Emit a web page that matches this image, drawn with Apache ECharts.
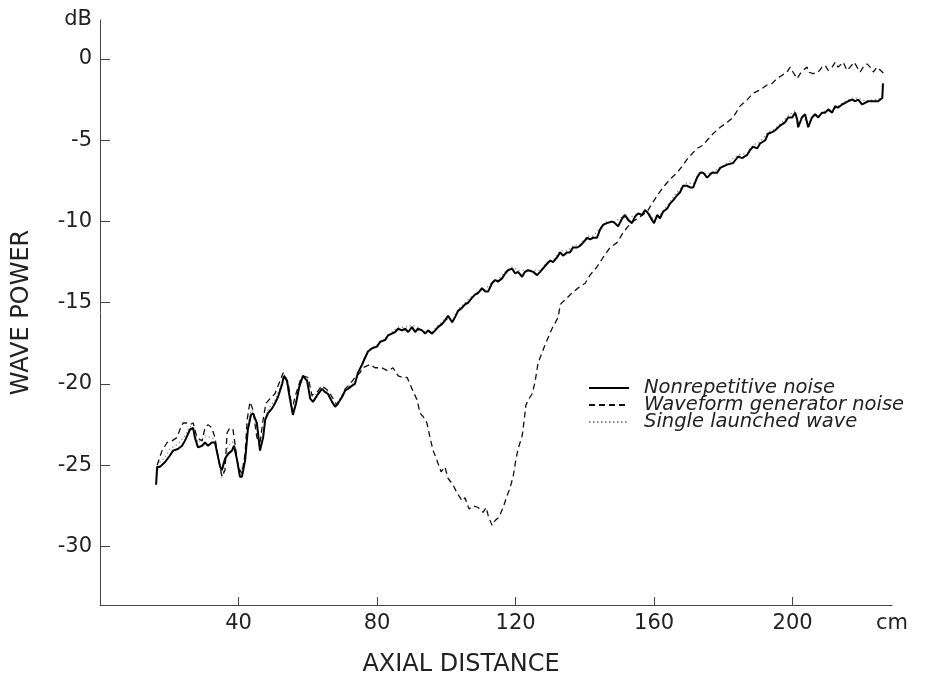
<!DOCTYPE html>
<html>
<head>
<meta charset="utf-8">
<script src="https://cdn.jsdelivr.net/npm/echarts@6/dist/echarts.min.js"></script>
<style>html,body{margin:0;padding:0;background:#fff;}#c{width:929px;height:682px;}</style>
</head>
<body>
<div id="c"></div>
<script>
// ---- data ----
var xTicks = [40, 80, 120, 160, 200];
var yTicks = [0, -5, -10, -15, -20, -25, -30];
var xUnit = 'cm';
var yUnit = 'dB';
var seriesNames = ['Nonrepetitive noise', 'Waveform generator noise', 'Single launched wave'];

var solidX = [16.2,16.5,17.3,18.8,20.2,21.1,22.5,23.7,24.5,26.0,26.9,27.4,28.3,29.5,30.3,31.2,32.3,33.2,34.1,34.7,35.2,36.1,37.0,38.1,38.7,39.6,40.4,41.0,41.9,42.7,43.6,44.2,45.3,46.2,47.1,47.7,48.5,49.7,50.5,51.4,52.6,53.1,54.0,54.6,55.7,56.6,57.5,58.6,59.8,60.7,61.5,62.7,64.1,65.0,65.8,67.0,67.9,68.7,69.9,70.8,71.6,72.8,73.6,74.5,75.7,76.5,77.4,78.6,80.0,80.9,82.3,83.2,84.3,85.2,86.1,87.2,88.1,89.0,90.1,91.0,91.8,93.0,93.9,94.7,95.9,96.8,97.6,98.8,99.6,100.5,101.7,102.5,103.4,104.6,105.4,106.3,107.4,108.3,109.2,110.3,111.2,112.1,113.2,114.1,114.9,116.1,117.0,117.8,119.0,119.9,120.7,121.9,122.7,123.6,125.1,126.2,127.1,127.9,129.1,130.0,130.8,132.0,132.9,133.7,134.9,135.7,136.6,137.8,138.6,139.5,140.7,141.5,142.4,143.5,144.4,145.3,146.4,147.9,148.7,149.6,150.8,151.6,152.5,153.6,154.5,155.4,156.5,157.4,158.3,159.4,160.0,160.9,161.7,162.6,163.8,164.6,165.5,166.6,167.5,168.4,169.5,170.4,171.3,172.4,173.3,174.2,175.3,176.7,178.2,179.1,181.1,182.8,184.3,185.4,186.9,187.7,188.6,189.8,190.6,192.1,192.9,194.1,194.9,196.4,197.8,198.7,199.9,200.7,201.3,201.6,202.7,203.6,204.5,205.6,206.5,207.4,208.5,209.4,210.3,211.4,212.3,213.1,214.3,215.2,216.0,217.2,218.1,218.9,220.1,220.9,221.8,223.3,224.7,225.9,226.1];
var solidY = [-26.2,-25.1,-25.1,-24.8,-24.4,-24.1,-24.0,-23.8,-23.5,-22.8,-22.7,-23.3,-23.9,-23.8,-23.6,-23.8,-23.6,-23.6,-24.5,-25.1,-25.3,-24.6,-24.3,-24.1,-23.8,-24.7,-25.7,-25.7,-24.7,-22.8,-21.9,-21.8,-22.4,-24.1,-23.3,-22.2,-21.8,-21.5,-21.2,-20.8,-20.0,-19.5,-19.8,-20.6,-21.9,-21.2,-20.2,-19.5,-19.8,-20.9,-21.1,-20.7,-20.3,-20.5,-20.6,-21.1,-21.4,-21.2,-20.8,-20.4,-20.3,-20.1,-20.0,-19.3,-18.8,-18.4,-18.0,-17.8,-17.7,-17.4,-17.3,-17.0,-16.9,-16.8,-16.6,-16.7,-16.6,-16.8,-16.5,-16.8,-16.6,-16.7,-16.9,-16.7,-16.9,-16.7,-16.5,-16.3,-16.1,-15.8,-16.2,-15.9,-15.5,-15.3,-15.1,-15.0,-14.7,-14.5,-14.4,-14.1,-14.3,-14.3,-13.8,-13.6,-13.7,-13.5,-13.2,-13.0,-12.9,-13.2,-13.1,-13.4,-13.1,-13.0,-13.1,-13.3,-13.1,-12.9,-12.6,-12.4,-12.5,-12.2,-11.9,-12.1,-11.9,-11.9,-11.6,-11.6,-11.5,-11.3,-11.0,-11.1,-11.0,-11.0,-10.5,-10.2,-10.1,-10.0,-10.1,-10.3,-9.8,-9.6,-9.9,-10.1,-9.7,-9.5,-9.6,-9.3,-9.5,-9.9,-10.1,-9.6,-9.8,-9.4,-9.2,-8.9,-8.7,-8.4,-8.2,-7.8,-7.8,-7.9,-7.9,-7.3,-7.0,-7.0,-7.3,-7.0,-7.0,-6.7,-6.5,-6.4,-6.0,-6.1,-5.9,-5.6,-5.4,-5.5,-5.2,-5.0,-4.6,-4.5,-4.4,-4.1,-3.9,-3.6,-3.6,-3.3,-3.7,-4.2,-3.6,-3.4,-4.2,-3.6,-3.4,-3.6,-3.3,-3.3,-3.1,-3.3,-2.9,-3.0,-2.8,-2.7,-2.6,-2.5,-2.6,-2.5,-2.8,-2.7,-2.6,-2.6,-2.6,-2.4,-1.5];

var dashX = [16.5,17.9,19.4,20.8,22.2,23.1,24.0,25.1,26.0,26.9,28.0,29.5,30.3,31.2,32.3,33.2,34.1,35.2,36.1,36.7,37.5,38.4,39.0,39.9,41.0,41.9,42.5,43.3,44.2,45.3,46.2,47.1,47.9,49.1,50.5,52.0,52.9,54.3,55.5,56.3,57.8,58.6,60.1,61.2,62.7,64.1,65.8,67.3,68.4,69.6,70.8,72.2,73.6,75.1,75.9,78.0,79.4,81.4,83.2,84.6,86.1,87.5,88.7,90.1,91.6,92.4,93.3,94.4,95.3,96.2,97.3,98.5,99.6,100.5,101.9,103.1,104.6,105.4,106.6,107.7,109.2,110.6,111.5,112.1,113.2,114.1,115.2,116.4,117.5,118.4,119.3,119.9,120.7,121.9,122.5,123.0,123.6,124.8,125.6,126.5,128.5,130.5,132.3,132.9,134.9,136.3,138.0,140.1,141.5,143.5,145.3,147.3,149.3,151.0,152.5,153.9,156.0,158.0,159.4,160.9,162.6,164.6,166.6,168.1,169.8,172.4,174.2,175.3,177.0,179.1,181.1,182.8,184.8,186.9,188.6,190.6,192.6,194.1,195.5,197.0,198.4,199.3,200.1,201.3,202.2,203.0,204.2,204.5,205.9,207.4,208.5,209.4,210.3,211.4,212.3,213.1,214.6,215.7,216.6,217.8,218.6,219.5,220.4,221.5,222.4,223.3,224.4,225.9,226.7];
var dashY = [-25.0,-24.1,-23.6,-23.5,-23.3,-22.8,-22.4,-22.4,-22.5,-22.4,-23.3,-23.5,-22.7,-22.5,-22.7,-23.3,-24.5,-25.7,-25.3,-23.0,-22.7,-22.8,-23.7,-25.1,-25.5,-24.3,-22.2,-21.1,-21.6,-23.3,-23.6,-22.2,-21.2,-20.9,-20.6,-19.8,-19.3,-19.9,-21.6,-20.8,-19.8,-19.5,-19.6,-20.7,-20.5,-20.1,-20.4,-20.9,-21.3,-20.9,-20.3,-20.0,-19.6,-19.3,-19.0,-18.8,-19.0,-19.0,-19.2,-19.0,-19.5,-19.6,-19.6,-20.3,-21.0,-21.8,-22.0,-22.4,-23.3,-24.1,-24.7,-25.4,-25.1,-25.8,-26.2,-26.7,-27.2,-27.0,-27.7,-27.5,-27.6,-27.9,-27.6,-28.1,-28.7,-28.4,-28.2,-27.6,-26.9,-26.4,-25.7,-24.9,-24.0,-23.2,-22.2,-21.3,-21.0,-20.6,-19.9,-18.7,-17.6,-16.6,-15.9,-15.1,-14.7,-14.4,-14.1,-13.8,-13.3,-12.8,-12.2,-11.6,-11.3,-10.7,-10.3,-10.0,-9.7,-9.4,-8.9,-8.4,-7.9,-7.4,-7.0,-6.6,-6.1,-5.5,-5.3,-5.0,-4.6,-4.2,-3.9,-3.6,-2.9,-2.5,-2.1,-1.9,-1.6,-1.5,-1.2,-1.0,-0.8,-0.5,-0.8,-1.2,-0.9,-0.7,-0.5,-0.8,-0.9,-0.8,-0.5,-0.4,-0.7,-0.5,-0.2,-0.5,-0.2,-0.7,-0.5,-0.2,-0.5,-0.8,-0.5,-0.3,-0.5,-0.8,-0.5,-0.8,-1.0];

var dotX = [16.2,17.3,18.8,20.2,22.5,24.5,26.0,27.4,28.3,30.3,32.3,33.2,34.1,35.2,36.1,37.0,38.7,39.6,40.4,41.9,42.7,43.6,44.2,45.3,46.2,47.1,48.5,50.5,52.6,53.1,54.0,54.6,55.7,56.6,58.6,59.8,60.7,62.7,64.1,65.8,67.0,67.9,69.9,71.6,73.6,75.7,77.4,80.0,82.3,84.3,86.1,88.1,90.1,91.8,93.9,95.9,97.6,99.6,101.7,103.4,105.4,107.4,109.2,111.2,113.2,114.9,117.0,119.0,120.7,122.7,125.1,127.1,129.1,130.8,132.9,134.9,136.6,138.6,140.7,142.4,144.4,146.4,148.7,150.8,152.5,154.5,156.5,158.3,160.0,161.7,163.8,165.5,167.5,169.5,171.3,173.3,175.3,178.2,181.1,184.3,186.9,188.6,190.6,192.9,194.9,196.4,198.7,200.7,201.6,202.7,204.5,205.6,207.4,209.4,211.4,213.1,215.2,217.2,218.9,220.9,223.3,224.7,225.9,226.1];
var dotY = [-25.8,-24.8,-24.5,-24.0,-23.7,-23.2,-22.6,-23.0,-23.6,-23.2,-23.3,-23.5,-24.6,-25.8,-24.8,-23.8,-23.5,-24.8,-25.6,-24.5,-22.6,-21.6,-21.7,-22.6,-23.9,-23.0,-21.6,-21.0,-19.9,-19.4,-19.8,-20.8,-21.8,-21.0,-19.5,-19.7,-20.8,-20.6,-20.2,-20.5,-21.0,-21.3,-20.7,-20.2,-19.9,-18.7,-17.9,-17.6,-17.2,-16.8,-16.5,-16.5,-16.4,-16.5,-16.8,-16.8,-16.4,-16.0,-16.1,-15.4,-15.0,-14.6,-14.3,-14.2,-13.7,-13.6,-13.1,-12.8,-13.0,-13.0,-13.0,-13.0,-12.5,-12.4,-11.8,-11.8,-11.5,-11.4,-10.9,-10.9,-10.4,-10.0,-10.0,-9.7,-9.8,-9.6,-9.5,-9.4,-9.9,-9.6,-9.0,-8.5,-8.0,-7.6,-7.7,-6.9,-7.1,-6.8,-6.4,-5.9,-5.8,-5.3,-5.1,-4.5,-4.3,-4.0,-3.5,-3.2,-4.0,-3.5,-4.0,-3.5,-3.5,-3.2,-3.2,-2.9,-2.6,-2.4,-2.4,-2.6,-2.5,-2.5,-2.3,-1.4];

// ---- axis extent ----
var xMin = 0, xMax = 228.7;
var yMin = -33.6, yMax = 2.4;

function pairs(xs, ys) { return xs.map(function (x, i) { return [x, ys[i]]; }); }

var FONT = 'DejaVu Sans';
var chart = echarts.init(document.getElementById('c'), null, { renderer: 'canvas' });
chart.setOption({
  animation: false,
  backgroundColor: '#ffffff',
  textStyle: { fontFamily: FONT, color: '#222' },
  grid: { left: 100, right: 37, top: 20, bottom: 77, containLabel: false, outerBoundsMode: 'none' },
  legend: {
    data: seriesNames,
    orient: 'vertical',
    left: 583, top: 373,
    itemWidth: 40, itemHeight: 12, itemGap: -3,
    itemStyle: { opacity: 0 },
    textStyle: { fontFamily: FONT, fontStyle: 'italic', fontSize: 19.5, color: '#222', lineHeight: 18, padding: [0, 0, 0, 10] }
  },
  xAxis: {
    type: 'value', min: xMin, max: xMax,
    name: 'AXIAL DISTANCE', nameLocation: 'middle', nameGap: 48,
    nameTextStyle: { fontFamily: FONT, fontSize: 24, color: '#222', padding: [0, 70, 0, 0] },
    axisLine: { show: true, onZero: false, lineStyle: { color: '#444', width: 1 } },
    axisTick: { show: true, inside: true, length: 8, customValues: xTicks, lineStyle: { color: '#444' } },
    axisLabel: {
      customValues: xTicks.concat([xMax]), margin: 8, fontSize: 21, fontFamily: FONT, color: '#222',
      formatter: function (v) { return v > 220 ? xUnit : String(v); }
    },
    splitLine: { show: false }
  },
  yAxis: {
    type: 'value', min: yMin, max: yMax,
    name: 'WAVE POWER', nameLocation: 'middle', nameGap: 66,
    nameTextStyle: { fontFamily: FONT, fontSize: 24, color: '#222' },
    axisLine: { show: true, onZero: false, lineStyle: { color: '#444', width: 1 } },
    axisTick: { show: true, inside: true, length: 10, customValues: yTicks, lineStyle: { color: '#444' } },
    axisLabel: {
      customValues: [yMax].concat(yTicks), margin: 8, fontSize: 21, fontFamily: FONT, color: '#222',
      formatter: function (v) { return v > 1 ? yUnit : String(v); }
    },
    splitLine: { show: false }
  },
  series: [
    {
      name: seriesNames[2], type: 'line', data: pairs(dotX, dotY), symbol: 'none', showSymbol: false, z: 1,
      lineStyle: { color: '#8a8a8a', width: 1.1, type: [1.5, 2.5] }, itemStyle: { color: '#8a8a8a' }
    },
    {
      name: seriesNames[1], type: 'line', data: pairs(dashX, dashY), symbol: 'none', showSymbol: false, z: 2,
      lineStyle: { color: '#111', width: 1.3, type: [6, 4] }, itemStyle: { color: '#111' }
    },
    {
      name: seriesNames[0], type: 'line', data: pairs(solidX, solidY), symbol: 'none', showSymbol: false, z: 3,
      lineStyle: { color: '#000', width: 2 }, itemStyle: { color: '#000' }
    }
  ]
});
</script>
</body>
</html>
